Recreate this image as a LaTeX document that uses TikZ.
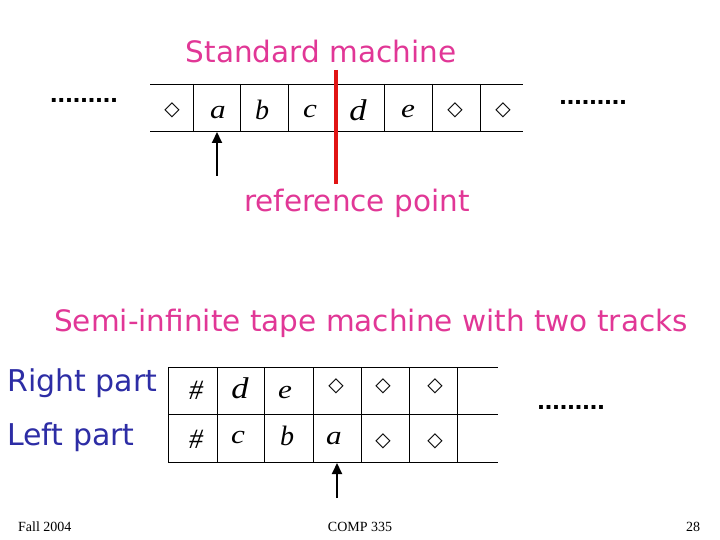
\documentclass[tikz,border=0pt]{standalone}
\usepackage{fontspec}
\setmainfont{DejaVu Sans}
\newfontfamily\serifit{Liberation Serif}[ItalicFont=* Italic]
\newfontfamily\footfont{Liberation Serif}
\newfontfamily\dotfont{Liberation Sans}[UprightFont=* Bold]
\newfontfamily\symfont{DejaVu Sans}[UprightFont=* Bold]
\usetikzlibrary{arrows.meta}
\definecolor{slidepink}{RGB}{225,55,150}
\definecolor{slideblue}{RGB}{45,45,165}
\definecolor{refred}{RGB}{225,20,20}
\tikzset{
  title/.style={text=slidepink, font=\fontsize{29.5}{32}\selectfont, inner sep=0pt},
  lbl/.style={text=slideblue, font=\fontsize{30}{32}\selectfont, inner sep=0pt, anchor=west},
  dots/.style={font=\dotfont\fontsize{27}{30}\selectfont, inner sep=0pt},
  tape/.style={line width=0.9pt},
  sym/.style={inner sep=0pt, font=\symfont\fontsize{20}{20}\selectfont},
  let/.style={inner sep=0pt, font=\serifit\itshape\fontsize{#1}{#1}\selectfont},
  head/.style={line width=2pt, -{Triangle[width=10pt,length=11pt]}},
  foot/.style={font=\footfont\fontsize{14}{16}\selectfont, inner sep=0pt},
}
\begin{document}
\begin{tikzpicture}[x=1pt,y=-1pt]
\useasboundingbox (0,0) rectangle (720,540);
% ---- standard machine ----
\node[title] (t1) at (321,52) {Standard machine};
\node[dots] (d1) at (84,100) {.........};
\node[dots] (d2) at (593,102) {.........};
\draw[tape] (150,84) -- (523,84);
\draw[tape] (150,131) -- (523,131);
\foreach \x in {193,240,288,336,384,432,480} \draw[tape] (\x,84) -- (\x,131);
\node[sym] (s1) at (172,110) {◇};
\node[let=26] (sa) at (218,113) {\scalebox{1.2}[1]{a}};
\node[let=28] (sb) at (262,110) {b};
\node[let=26] (sc) at (310,112) {\scalebox{1.2}[1]{c}};
\node[let=30] (sd) at (358,110) {\scalebox{1.15}[1]{d}};
\node[let=26] (se) at (408,112) {\scalebox{1.2}[1]{e}};
\node[sym] (s7) at (455,110) {◇};
\node[sym] (s8) at (503,110) {◇};
\coordinate (h1a) at (217,176);
\coordinate (h1b) at (217,132);
\draw[head] (h1a) -- (h1b);
\coordinate (r1) at (336,70);
\coordinate (r2) at (336,184);
\draw[refred, line width=3.5pt] (r1) -- (r2);
\node[title] (rp) at (357,203) {reference point};
% ---- semi-infinite ----
\node[title] (t2) at (371,323) {Semi-infinite tape machine with two tracks};
\node[lbl] (rpart) at (7,383) {Right part};
\node[lbl] (lpart) at (7,437) {Left part};
\draw[tape] (168,367) -- (498,367);
\draw[tape] (168,414) -- (498,414);
\draw[tape] (168,462) -- (498,462);
\foreach \x in {168,217,264,313,361,409,457} \draw[tape] (\x,367) -- (\x,462);
\node[dots] (d3) at (571,407) {.........};
\node[let=28] (u1) at (196,390) {\#};
\node[let=30] (u2) at (240,388) {\scalebox{1.15}[1]{d}};
\node[let=26] (u3) at (285,392) {\scalebox{1.2}[1]{e}};
\node[sym] (u4) at (336,386) {◇};
\node[sym] (u5) at (383,386) {◇};
\node[sym] (u6) at (435,386) {◇};
\node[let=28] (l1) at (196,439) {\#};
\node[let=26] (l2) at (238,437) {\scalebox{1.2}[1]{c}};
\node[let=28] (l3) at (287,436) {b};
\node[let=26] (l4) at (334,439) {\scalebox{1.2}[1]{a}};
\node[sym] (l5) at (383,441) {◇};
\node[sym] (l6) at (435,441) {◇};
\coordinate (h2a) at (337,498);
\coordinate (h2b) at (337,463);
\draw[head] (h2a) -- (h2b);
% ---- footer ----
\node[foot, anchor=west] (f1) at (18,527) {Fall 2004};
\node[foot] (f2) at (360,527) {COMP 335};
\node[foot] (f3) at (693,527) {28};
\end{tikzpicture}
\end{document}
